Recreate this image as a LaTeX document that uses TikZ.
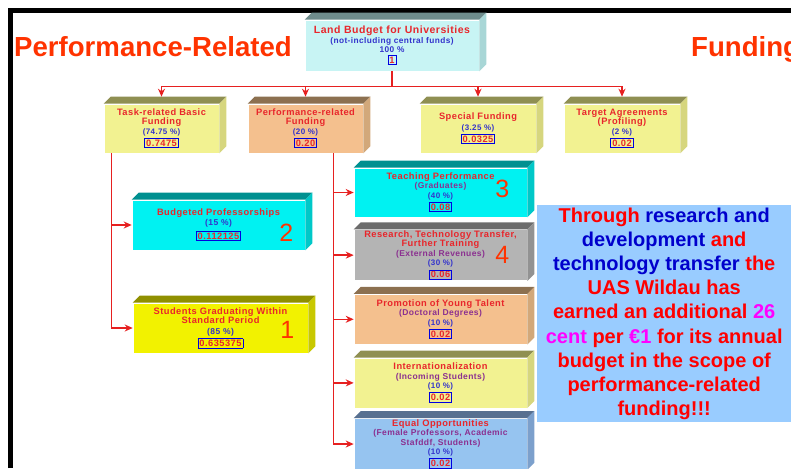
\documentclass[tikz,border=0pt]{standalone}
\usepackage{fontspec}
\setmainfont{Liberation Sans}
\newfontfamily\boxfont{Liberation Sans}[LetterSpace=5]
\usepackage{tikz}
\usetikzlibrary{arrows.meta, positioning}
\definecolor{headred}{HTML}{FF3300}
\definecolor{txtred}{HTML}{E8262B}
\definecolor{txtblue}{HTML}{3333CC}
\definecolor{txtpurple}{HTML}{8B3090}
\definecolor{valblue}{HTML}{0000E0}
\definecolor{linkred}{HTML}{E62020}
\definecolor{infored}{HTML}{FF0000}
\definecolor{infoblue}{HTML}{0000CC}
\definecolor{infopink}{HTML}{FF00FF}
\definecolor{infofill}{HTML}{99CCFF}
% front / top / side of the boxes
\definecolor{landfront}{HTML}{C8F4F4}
\definecolor{landtop}{HTML}{6E8C8C}
\definecolor{landside}{HTML}{A8D6D6}
\definecolor{khakifront}{HTML}{F2F291}
\definecolor{khakitop}{HTML}{8F8F52}
\definecolor{khakiside}{HTML}{D6D67E}
\definecolor{peachfront}{HTML}{F4C08E}
\definecolor{peachtop}{HTML}{8C7050}
\definecolor{peachside}{HTML}{D2A87A}
\definecolor{cyanfront}{HTML}{00F2F2}
\definecolor{cyantop}{HTML}{009090}
\definecolor{cyanside}{HTML}{00C8C8}
\definecolor{yellowfront}{HTML}{F2F200}
\definecolor{yellowtop}{HTML}{909000}
\definecolor{yellowside}{HTML}{C8C800}
\definecolor{greyfront}{HTML}{B4B4B4}
\definecolor{greytop}{HTML}{6C6C6C}
\definecolor{greyside}{HTML}{929292}
\definecolor{bluefront}{HTML}{96C4F0}
\definecolor{bluetop}{HTML}{587090}
\definecolor{blueside}{HTML}{7CA0CC}

\newcommand{\hd}[1]{\textcolor{txtred}{#1}}
\newcommand{\pc}[1]{{\color{txtblue}\fontsize{8}{8.5}\selectfont #1}}
\newcommand{\subtxt}[1]{{\color{txtpurple}\fontsize{8.5}{9}\selectfont #1}}
\newcommand{\val}[1]{{\fboxsep=1pt\fboxrule=0.8pt\textcolor{valblue}{\fbox{\textcolor{txtred}{#1}}}}}
\newcommand{\boxsides}[3]{%
  \fill[#2] (#1.north west) -- ++(7,-7) -- ([shift={(7pt,7pt)}]#1.north east) -- (#1.north east) -- cycle;
  \fill[#3] (#1.north east) -- ++(7,-7) -- ([shift={(7pt,7pt)}]#1.south east) -- (#1.south east) -- cycle;}

\tikzset{
  fundbox/.style={draw=white, line width=0.6pt, inner sep=1pt, align=center,
    font={\boxfont\bfseries\fontsize{9.3}{9.5}\selectfont}},
  conn/.style={draw=linkred, line width=1.3pt},
  bignum/.style={text=headred, font={\fontsize{25}{25}\selectfont}, inner sep=0pt},
}

\begin{document}
\begin{tikzpicture}[x=1pt, y=-1pt]
  \useasboundingbox (0,0) rectangle (791,468);
  \clip (0,0) rectangle (791,468);

  % frame and title
  \draw[line width=5pt] (10.5,468) -- (10.5,10.5) -- (791,10.5);
  \node[anchor=base west, text=headred, font={\bfseries\fontsize{27.6}{28}\selectfont}, inner sep=0pt]
    (title) at (14,57) {Performance-Related};
  \node[anchor=base west, text=headred, font={\bfseries\fontsize{27.6}{28}\selectfont}, inner sep=0pt]
    (title2) at (691,57) {Funding};

  % top level
  \node[fundbox, fill=landfront, minimum width=174pt, minimum height=51pt] (land) at (392,45.5)
    {{\fontsize{10.5}{11}\selectfont\hd{Land Budget for Universities}}\\
     {\color{txtblue}\fontsize{8.3}{9}\selectfont (not-including central funds)}\\
     {\color{txtblue}\fontsize{8.3}{9}\selectfont 100 \%}\\[1pt] \val{1}};
  \boxsides{land}{landtop}{landside}

  % second level
  \node[fundbox, fill=khakifront, minimum width=115pt, minimum height=49pt] (task) at (161.5,128.5)
    {\hd{Task-related Basic}\\ \hd{Funding}\\ \pc{(74.75 \%)}\\[1pt] \val{0.7475}};
  \node[fundbox, fill=peachfront, minimum width=115pt, minimum height=49pt] (perf) at (305.5,128.5)
    {\hd{Performance-related}\\ \hd{Funding}\\ \pc{(20 \%)}\\[1pt] \val{0.20}};
  \node[fundbox, fill=khakifront, minimum width=116pt, minimum height=49pt] (special) at (478,128.5)
    {\hd{Special Funding}\\[1pt] \pc{(3.25 \%)}\\[1pt] \val{0.0325}};
  \node[fundbox, fill=khakifront, minimum width=116pt, minimum height=49pt] (target) at (622,128.5)
    {\hd{Target Agreements}\\ \hd{(Profiling)}\\ \pc{(2 \%)}\\[1pt] \val{0.02}};
  \boxsides{task}{khakitop}{khakiside}
  \boxsides{perf}{peachtop}{peachside}
  \boxsides{special}{khakitop}{khakiside}
  \boxsides{target}{khakitop}{khakiside}

  % basic funding parts
  \node[fundbox, fill=cyanfront, minimum width=173pt, minimum height=50pt] (bud) at (218.5,225)
    {\hd{Budgeted Professorships}\\ {\color{txtblue}\fontsize{8.5}{9}\selectfont (15 \%)}\\[3pt] \val{0.112125}};
  \node[fundbox, fill=yellowfront, minimum width=175pt, minimum height=50pt] (stud) at (220.5,328)
    {\hd{Students Graduating Within}\\ \hd{Standard Period}\\[1pt] {\color{txtblue}\fontsize{8.5}{9}\selectfont (85 \%)}\\[1pt] \val{0.635375}};
  \boxsides{bud}{cyantop}{cyanside}
  \boxsides{stud}{yellowtop}{yellowside}

  % performance parts
  \node[fundbox, fill=cyanfront, minimum width=173pt, minimum height=49pt] (teach) at (440.5,192.5)
    {\hd{Teaching Performance}\\ \subtxt{(Graduates)}\\ \pc{(40 \%)}\\[1pt] \val{0.08}};
  \node[fundbox, fill=greyfront, minimum width=173pt, minimum height=48pt, below=12pt of teach] (research)
    {\hd{Research, Technology Transfer,}\\ \hd{Further Training}\\ \subtxt{(External Revenues)}\\ \pc{(30 \%)}\\[1pt] \val{0.06}};
  \node[fundbox, fill=peachfront, minimum width=173pt, minimum height=50pt, below=13pt of research] (young)
    {\hd{Promotion of Young Talent}\\ \subtxt{(Doctoral Degrees)}\\ \pc{(10 \%)}\\[1pt] \val{0.02}};
  \node[fundbox, fill=khakifront, minimum width=173pt, minimum height=50pt, below=13pt of young] (intl)
    {\hd{Internationalization}\\ \subtxt{(Incoming Students)}\\ \pc{(10 \%)}\\[1pt] \val{0.02}};
  \node[fundbox, fill=bluefront, minimum width=173pt, minimum height=51pt, below=10pt of intl] (equal)
    {\hd{Equal Opportunities}\\ \subtxt{(Female Professors, Academic}\\ \subtxt{Stafddf, Students)}\\ \pc{(10 \%)}\\[1pt] \val{0.02}};
  \boxsides{teach}{cyantop}{cyanside}
  \boxsides{research}{greytop}{greyside}
  \boxsides{young}{peachtop}{peachside}
  \boxsides{intl}{khakitop}{khakiside}
  \boxsides{equal}{bluetop}{blueside}

  % numbers
  \node[bignum] (n2) at ([xshift=-19pt, yshift=-8pt]bud.east) {2};
  \node[bignum] (n1) at ([xshift=-21pt, yshift=-2pt]stud.east) {1};
  \node[bignum] (n3) at ([xshift=-25pt, yshift=4pt]teach.east) {3};
  \node[bignum] (n4) at ([xshift=-25pt]research.east) {4};

  % connectors
  \coordinate (hub) at ([yshift=-15pt]land.south);
  \draw[conn] (land.south) -- (hub);
  \draw[conn, -{Stealth[length=8pt, width=7pt]}] (hub) -| ([yshift=7pt]task.north);
  \draw[conn, -{Stealth[length=8pt, width=7pt]}] (hub) -| ([yshift=7pt]perf.north);
  \draw[conn, -{Stealth[length=8pt, width=7pt]}] (hub) -| ([yshift=7pt]special.north);
  \draw[conn, -{Stealth[length=8pt, width=7pt]}] (hub) -| ([yshift=7pt]target.north);
  \draw[conn, -{Stealth[length=8pt, width=7pt]}] ([xshift=8pt]task.south west) |- (bud.west);
  \draw[conn, -{Stealth[length=8pt, width=7pt]}] ([xshift=8pt]task.south west) |- (stud.west);
  \foreach \part in {teach, research, young, intl, equal}
    \draw[conn, -{Stealth[length=8pt, width=7pt]}] ([xshift=-30pt]perf.south east) |- (\part.west);

  % note
  \node[fill=infofill, minimum width=254pt, minimum height=217pt, anchor=north west, align=center,
        text=infored, font={\bfseries\fontsize{20}{24.2}\selectfont}, inner sep=0pt] (info) at (537,205)
    {Through \textcolor{infoblue}{research and}\\
     \textcolor{infoblue}{development} and\\
     \textcolor{infoblue}{technology transfer} the\\
     UAS Wildau has\\
     earned an additional \textcolor{infopink}{26}\\
     \textcolor{infopink}{cent} per \textcolor{infopink}{€1} for its annual\\
     budget in the scope of\\
     performance-related\\
     funding!!!};
\end{tikzpicture}
\end{document}
